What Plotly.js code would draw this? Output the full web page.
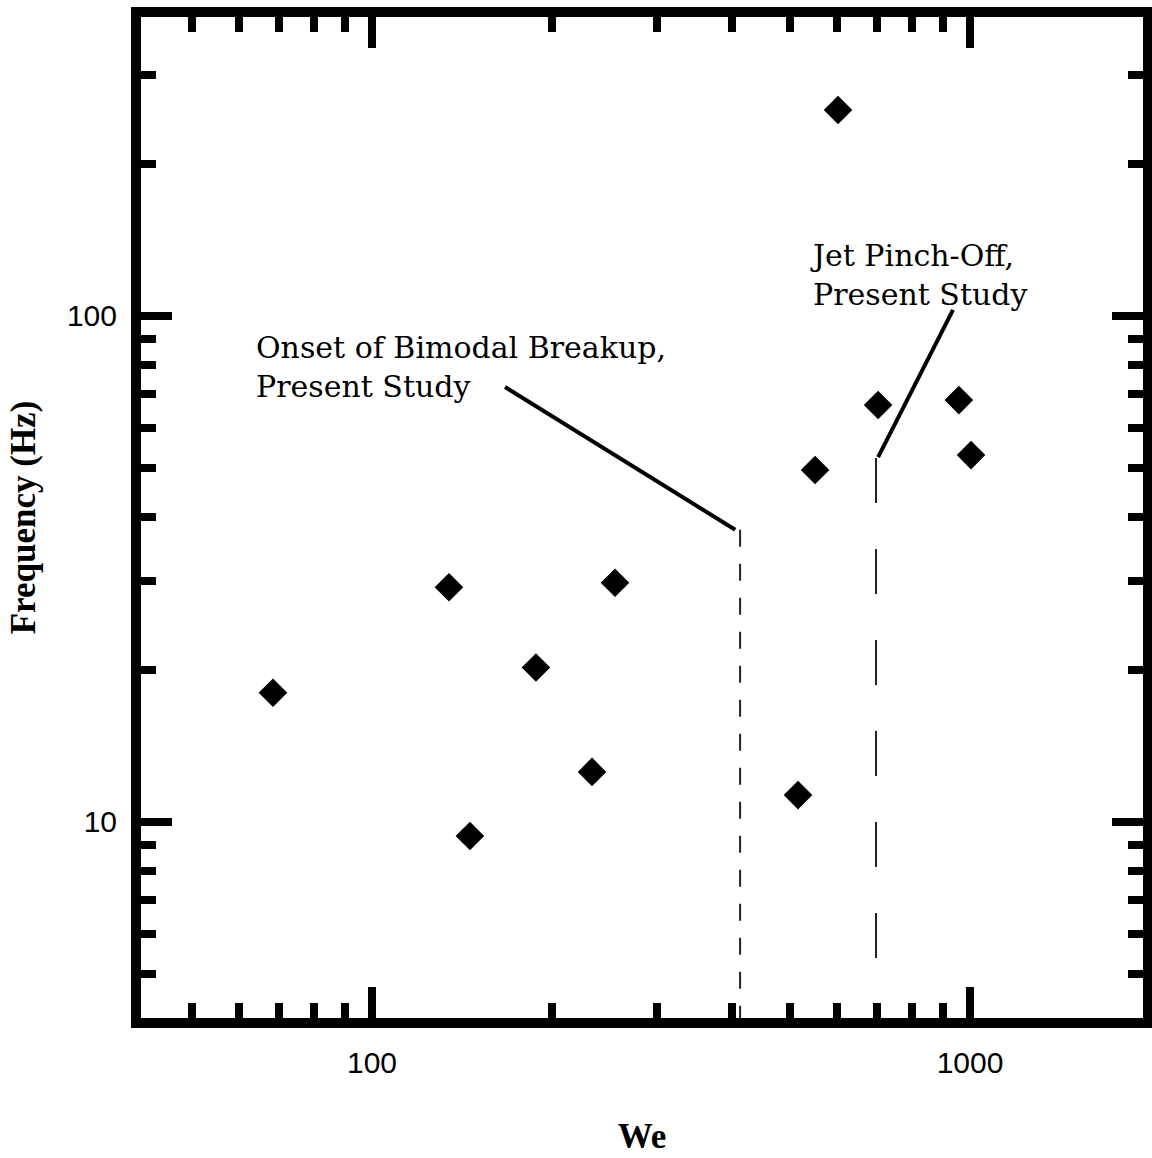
<!DOCTYPE html>
<html>
<head>
<meta charset="utf-8">
<script src="https://cdn.plot.ly/plotly-3.0.1.min.js"></script>
<style>html,body{margin:0;padding:0;background:#fff;}#chart{width:1152px;height:1158px;}</style>
</head>
<body>
<div id="chart"></div>
<script>
// Measured data (We, Frequency in Hz)
const weValues   = [68.3, 134.5, 145.8, 188, 233.3, 254.9, 515.7, 550.7, 601.6, 702, 958, 1004];
const freqValues = [18.0, 29.1, 9.38, 20.2, 12.56, 29.7, 11.3, 49.6, 255.4, 66.7, 68.2, 53.1];

// Reference lines
const bimodalLineX = [412.6, 412.6];
const bimodalLineY = [37.8, 4];
const pinchLineX   = [696.4, 696.4];
const pinchLineY   = [52.4, 4];

// Leader lines for labels
const bimodalLeaderX = [166.9, 405];
const bimodalLeaderY = [72.4, 37.8];
const pinchLeaderX   = [936.6, 702];
const pinchLeaderY   = [102.8, 52.6];

// Label anchors
const bimodalLabel = {text: 'Onset of Bimodal Breakup,<br>Present Study', x: 63.5, y: 79.3};
const pinchLabel   = {text: 'Jet Pinch-Off,<br>Present Study', x: 535.9, y: 120.5};

// Axis ticks
const xMajorTicks = [100, 1000];
const xTickText   = ['100', '1000'];
const xMinorTicks = [50, 60, 70, 80, 90, 200, 300, 400, 500, 600, 700, 800, 900];
const yMajorTicks = [10, 100];
const yTickText   = ['10', '100'];
const yMinorTicks = [5, 6, 7, 8, 9, 20, 30, 40, 50, 60, 70, 80, 90, 200, 300];

const traces = [
  {x: bimodalLineX, y: bimodalLineY, mode: 'lines', line: {color: '#222', width: 2, dash: '17px,17px'}, hoverinfo: 'skip'},
  {x: pinchLineX, y: pinchLineY, mode: 'lines', line: {color: '#222', width: 2, dash: '45px,46px'}, hoverinfo: 'skip'},
  {x: bimodalLeaderX, y: bimodalLeaderY, mode: 'lines', line: {color: '#000', width: 4}, hoverinfo: 'skip'},
  {x: pinchLeaderX, y: pinchLeaderY, mode: 'lines', line: {color: '#000', width: 4}, hoverinfo: 'skip'},
  {x: weValues, y: freqValues, mode: 'markers', marker: {symbol: 'diamond', size: 22, color: '#000', line: {width: 0}}}
];

const axisCommon = {
  type: 'log',
  showline: true, linewidth: 10, linecolor: '#000', mirror: 'allticks',
  ticks: 'inside', ticklen: 31, tickwidth: 8, tickcolor: '#000',
  showgrid: false, zeroline: false,
  tickfont: {family: 'Liberation Sans, Arial, sans-serif', size: 30, color: '#000'},
  tickmode: 'array'
};

const layout = {
  width: 1152, height: 1158,
  margin: {l: 141, r: 9, t: 17, b: 140},
  paper_bgcolor: '#fff', plot_bgcolor: '#fff',
  showlegend: false,
  xaxis: Object.assign({}, axisCommon, {
    range: [1.6137, 3.2893],
    tickvals: xMajorTicks, ticktext: xTickText,
    ticklabelstandoff: 9,
    minor: {tickmode: 'array', tickvals: xMinorTicks, ticks: 'inside', ticklen: 15, tickwidth: 8, tickcolor: '#000', showgrid: false},
    title: {text: 'We', font: {family: 'Liberation Serif, Times New Roman, serif', size: 35, color: '#000', weight: 'bold'}, standoff: 49}
  }),
  yaxis: Object.assign({}, axisCommon, {
    range: [0.6126, 2.5909],
    tickvals: yMajorTicks, ticktext: yTickText,
    ticklabelstandoff: 8,
    minor: {tickmode: 'array', tickvals: yMinorTicks, ticks: 'inside', ticklen: 15, tickwidth: 8, tickcolor: '#000', showgrid: false},
    title: {text: 'Frequency (Hz)', font: {family: 'Liberation Serif, Times New Roman, serif', size: 35, color: '#000', weight: 'bold'}, standoff: 25}
  }),
  annotations: [
    {text: bimodalLabel.text, x: Math.log10(bimodalLabel.x), y: Math.log10(bimodalLabel.y), xref: 'x', yref: 'y',
     xanchor: 'left', yanchor: 'middle', align: 'left', showarrow: false,
     font: {family: 'DejaVu Serif, serif', size: 30, color: '#000'}},
    {text: pinchLabel.text, x: Math.log10(pinchLabel.x), y: Math.log10(pinchLabel.y), xref: 'x', yref: 'y',
     xanchor: 'left', yanchor: 'middle', align: 'left', showarrow: false,
     font: {family: 'DejaVu Serif, serif', size: 30, color: '#000'}}
  ]
};

Plotly.newPlot('chart', traces, layout, {displayModeBar: false, staticPlot: true});
</script>
</body>
</html>
